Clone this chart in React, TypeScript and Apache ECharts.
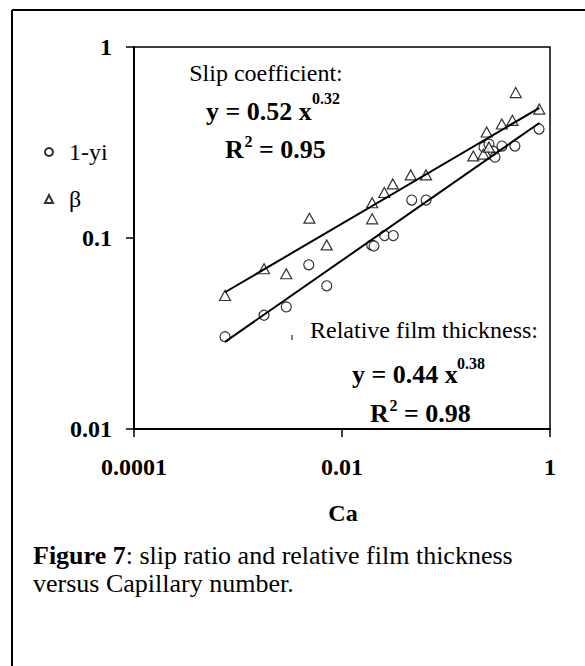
import React, { useEffect, useRef } from "react";
import * as echarts from "echarts";

// Capillary number (x) and measured values
const filmCa = [7.5e-4, 1.78e-3, 2.91e-3, 4.79e-3, 7.13e-3, 0.0193, 0.0203, 0.0257, 0.0311, 0.0468, 0.0643, 0.232, 0.259, 0.283, 0.296, 0.345, 0.46, 0.785];
const filmValues = [0.0304, 0.0394, 0.0436, 0.0724, 0.0562, 0.0918, 0.0908, 0.103, 0.103, 0.158, 0.158, 0.299, 0.31, 0.285, 0.265, 0.303, 0.303, 0.372];

const betaCa = [7.5e-4, 1.78e-3, 2.91e-3, 4.86e-3, 7.13e-3, 0.0195, 0.0195, 0.0255, 0.0308, 0.0458, 0.0643, 0.183, 0.229, 0.246, 0.259, 0.344, 0.435, 0.468, 0.789];
const betaValues = [0.05, 0.069, 0.065, 0.127, 0.092, 0.153, 0.126, 0.173, 0.192, 0.214, 0.214, 0.269, 0.275, 0.359, 0.299, 0.395, 0.413, 0.577, 0.473];

// Power-law trend lines (end points)
const fitCa = [7.5e-4, 0.79];
const betaFit = [0.052, 0.48];
const filmFit = [0.0286, 0.4];

const seriesNames = ["1-yi", "β"];
const xTickLabels = ["0.0001", "0.01", "1"];
const yTickLabels = ["0.01", "0.1", "1"];

const SERIF = '"Liberation Serif", "Times New Roman", serif';

const fmt = (labels: string[], minExp: number, step: number) => (v: number) => {
  const e = Math.round(Math.log10(v));
  const i = Math.round((e - minExp) / step);
  return labels[i] ?? "";
};

export default function App() {
  const ref = useRef<HTMLDivElement>(null);
  useEffect(() => {
    if (!ref.current) return;
    const chart = echarts.init(ref.current, null, { renderer: "svg" });
    const zip = (xs: number[], ys: number[]) => xs.map((x, i) => [x, ys[i]]);
    const txt = (x: number, y: number, text: string, size: number, bold: boolean, align = "left") => ({
      type: "text",
      x,
      y,
      silent: true,
      style: {
        text,
        font: `${bold ? "bold " : ""}${size}px ${SERIF}`,
        fill: "#000",
        align,
        textAlign: align,
        verticalAlign: "middle",
        textVerticalAlign: "middle",
      },
    });
    chart.setOption({
      animation: false,
      backgroundColor: "#fff",
      grid: {
        left: 134,
        top: 47,
        width: 416,
        height: 382,
        show: true,
        borderColor: "#000",
        borderWidth: 1.5,
        containLabel: false,
      },
      legend: {
        data: seriesNames,
        orient: "vertical",
        left: 44,
        top: 140,
        padding: 0,
        itemWidth: 8,
        itemHeight: 8,
        itemGap: 23,
        selectedMode: false,
        textStyle: { fontFamily: SERIF, fontSize: 24, color: "#000", padding: [0, 0, 0, 11] },
      },
      xAxis: {
        type: "log",
        logBase: 10,
        min: 0.0001,
        max: 1,
        interval: 2,
        axisLine: { lineStyle: { color: "#000", width: 2 } },
        axisTick: { show: true, length: 8, lineStyle: { color: "#000", width: 1.5 } },
        minorTick: { show: false },
        splitLine: { show: false },
        axisLabel: {
          formatter: fmt(xTickLabels, -4, 2),
          fontFamily: SERIF,
          fontWeight: "bold",
          fontSize: 24,
          color: "#000",
          margin: 26,
        },
      },
      yAxis: {
        type: "log",
        logBase: 10,
        min: 0.01,
        max: 1,
        interval: 1,
        axisLine: { lineStyle: { color: "#000", width: 2 } },
        axisTick: { show: true, length: 8, lineStyle: { color: "#000", width: 1.5 } },
        minorTick: { show: false },
        splitLine: { show: false },
        axisLabel: {
          formatter: fmt(yTickLabels, -2, 1),
          fontFamily: SERIF,
          fontWeight: "bold",
          fontSize: 24,
          color: "#000",
          margin: 22,
        },
      },
      series: [
        {
          name: seriesNames[0],
          type: "scatter",
          symbol: "circle",
          symbolSize: 10,
          itemStyle: { color: "#fff", borderColor: "#000", borderWidth: 1.2 },
          data: zip(filmCa, filmValues),
          z: 3,
        },
        {
          name: seriesNames[1],
          type: "scatter",
          symbol: "triangle",
          symbolSize: [11, 10],
          itemStyle: { color: "#fff", borderColor: "#000", borderWidth: 1.2 },
          data: zip(betaCa, betaValues),
          z: 3,
        },
        {
          name: "beta fit",
          type: "line",
          data: zip(fitCa, betaFit),
          showSymbol: false,
          symbol: "none",
          lineStyle: { color: "#000", width: 2 },
          z: 4,
        },
        {
          name: "film fit",
          type: "line",
          data: zip(fitCa, filmFit),
          showSymbol: false,
          symbol: "none",
          lineStyle: { color: "#000", width: 2 },
          z: 4,
        },
      ],
      graphic: [
        { type: "line", silent: true, shape: { x1: 12, y1: 10, x2: 585, y2: 10 }, style: { stroke: "#000", lineWidth: 2 } },
        { type: "line", silent: true, shape: { x1: 12, y1: 10, x2: 12, y2: 666 }, style: { stroke: "#000", lineWidth: 2 } },
        { type: "line", silent: true, shape: { x1: 292, y1: 335, x2: 292, y2: 340 }, style: { stroke: "#000", lineWidth: 1 } },
        txt(266, 73, "Slip coefficient:", 24, false, "center"),
        txt(206, 111, "y = 0.52 x", 26, true),
        txt(312, 98, "0.32", 16, true),
        txt(225, 149, "R", 26, true),
        txt(244.5, 141, "2", 16, true),
        txt(259, 149, "= 0.95", 26, true),
        txt(424, 330, "Relative film thickness:", 24, false, "center"),
        txt(352, 374, "y = 0.44 x", 26, true),
        txt(457, 363, "0.38", 16, true),
        txt(370, 413, "R", 26, true),
        txt(389.5, 405, "2", 16, true),
        txt(404, 413, "= 0.98", 26, true),
        txt(343, 513, "Ca", 24, true, "center"),
        {
          type: "text",
          x: 33,
          y: 555,
          silent: true,
          style: {
            text: "{b|Figure 7}: slip ratio and relative film thickness",
            font: `26px ${SERIF}`,
            fill: "#000",
            verticalAlign: "middle",
            textVerticalAlign: "middle",
            rich: { b: { fontFamily: SERIF, fontSize: 26, fontWeight: "bold", fill: "#000", color: "#000" } },
          },
        },
        txt(33, 583, "versus Capillary number.", 26, false),
      ],
    });
    return () => chart.dispose();
  }, []);
  return <div ref={ref} style={{ position: "fixed", left: 0, top: 0, width: 585, height: 666 }} />;
}
